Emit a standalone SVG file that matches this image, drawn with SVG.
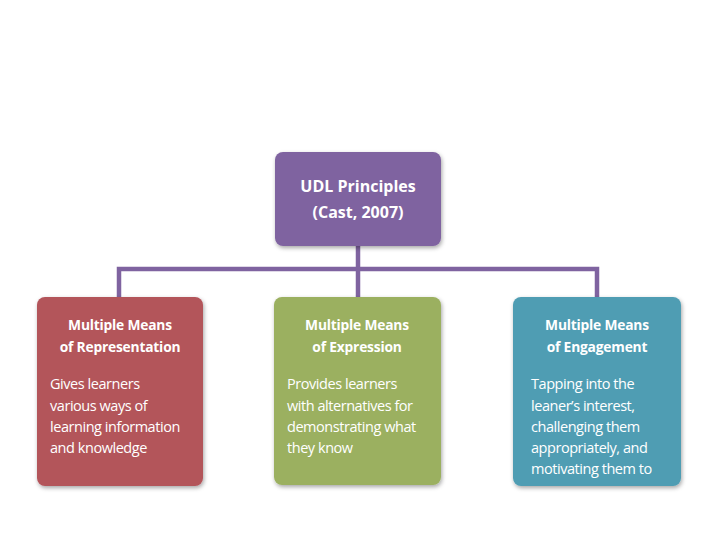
<svg xmlns="http://www.w3.org/2000/svg" width="720" height="540" viewBox="0 0 720 540">
<defs>
<filter id="sh" x="-10%" y="-10%" width="125%" height="125%">
<feDropShadow dx="1" dy="2" stdDeviation="2" flood-color="#000" flood-opacity="0.35"/>
</filter>
<style>
.box{filter:url(#sh)}
.t{font-family:"Open Sans","Liberation Sans",sans-serif;fill:#fff}
.title{font-size:16px;font-weight:bold;text-anchor:middle}
.hd{font-size:13.8px;font-weight:bold;text-anchor:middle;letter-spacing:-0.2px}
.bd{font-size:14.5px;letter-spacing:-0.45px}
.conn{stroke:#7f63a0;stroke-width:4.5;fill:none}
</style>
</defs>
<rect width="720" height="540" fill="#fff"/>
<g id="connectors">
<path class="conn" d="M358 246 V298"/>
<path class="conn" d="M119 298 V269 H597 V298"/>
</g>
<g id="udl">
<rect class="box" x="275" y="152" width="166" height="94" rx="8" fill="#7f63a0"/>
<text class="t title" x="358" y="192">UDL Principles</text>
<text class="t title" x="358" y="218">(Cast, 2007)</text>
</g>
<g id="representation">
<rect class="box" x="37" y="297" width="166" height="189" rx="8" fill="#b3545a"/>
<text class="t hd" x="120" y="330">Multiple Means</text>
<text class="t hd" x="120" y="352">of Representation</text>
<text class="t bd" x="50" y="389">Gives learners</text>
<text class="t bd" x="50" y="411">various ways of</text>
<text class="t bd" x="50" y="432">learning information</text>
<text class="t bd" x="50" y="453">and knowledge</text>
</g>
<g id="expression">
<rect class="box" x="274" y="297" width="167" height="188" rx="8" fill="#9bb060"/>
<text class="t hd" x="357" y="330">Multiple Means</text>
<text class="t hd" x="357" y="352">of Expression</text>
<text class="t bd" x="287" y="389">Provides learners</text>
<text class="t bd" x="287" y="411">with alternatives for</text>
<text class="t bd" x="287" y="432">demonstrating what</text>
<text class="t bd" x="287" y="453">they know</text>
</g>
<g id="engagement">
<rect class="box" x="513" y="297" width="168" height="189" rx="8" fill="#4f9db3"/>
<text class="t hd" x="597" y="330">Multiple Means</text>
<text class="t hd" x="597" y="352">of Engagement</text>
<text class="t bd" x="531" y="389">Tapping into the</text>
<text class="t bd" x="531" y="411">leaner’s interest,</text>
<text class="t bd" x="531" y="432">challenging them</text>
<text class="t bd" x="531" y="453">appropriately, and</text>
<text class="t bd" x="531" y="474">motivating them to</text>
</g>
</svg>
